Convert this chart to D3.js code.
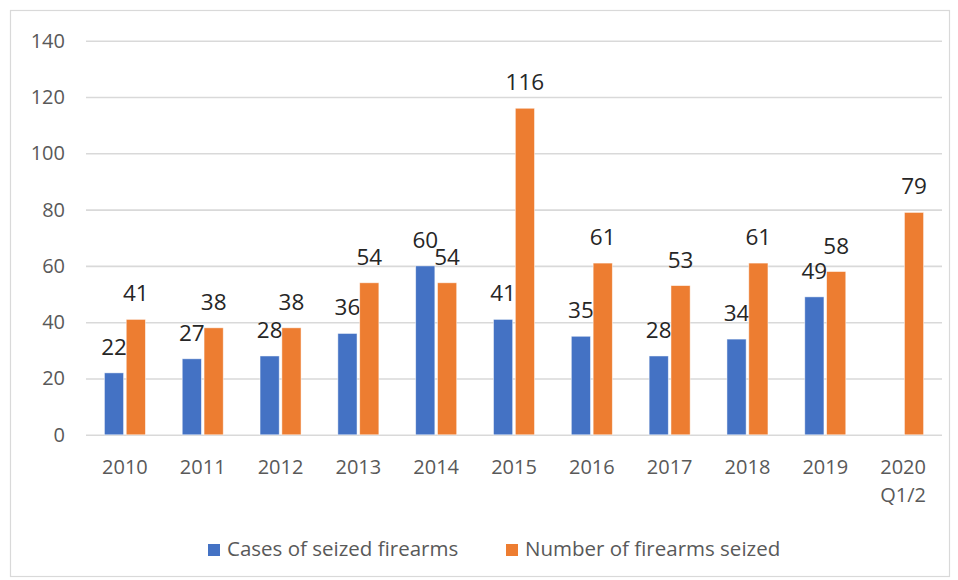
<!DOCTYPE html>
<html>
<head>
<meta charset="utf-8">
<script src="https://cdn.jsdelivr.net/npm/d3@7"></script>
<style>
  html, body { margin: 0; padding: 0; background: #fff; }
  svg { display: block; }
  text { font-family: "Open Sans", "Noto Sans", sans-serif; }
</style>
</head>
<body>
<svg id="chart" width="958" height="580"></svg>
<script>
// Firearm seizures by year
const categories = ["2010", "2011", "2012", "2013", "2014", "2015", "2016", "2017", "2018", "2019", "2020\nQ1/2"];
const casesSeized = [22, 27, 28, 36, 60, 41, 35, 28, 34, 49, null];
const firearmsSeized = [41, 38, 38, 54, 54, 116, 61, 53, 61, 58, 79];
const seriesNames = ["Cases of seized firearms", "Number of firearms seized"];
const seriesColors = ["#4472C4", "#ED7D31"];
const yTicks = [0, 20, 40, 60, 80, 100, 120, 140];

const svg = d3.select("#chart");
const plot = { left: 86, right: 942, top: 40.7, bottom: 434.8 };

// outer chart frame
svg.append("rect")
  .attr("x", 10.5).attr("y", 10.5)
  .attr("width", 939).attr("height", 566)
  .attr("fill", "#fff").attr("stroke", "#d9d9d9").attr("stroke-width", 1.2);

const y = d3.scaleLinear().domain([0, 140]).range([plot.bottom, plot.top]);

const groupPad = 1 - 41 / ((plot.right - plot.left) / categories.length);
const x0 = d3.scaleBand().domain(categories)
  .range([plot.left, plot.right])
  .paddingInner(groupPad).paddingOuter(groupPad / 2);
const x1 = d3.scaleBand().domain([0, 1])
  .range([0, x0.bandwidth()])
  .paddingInner(5 / 41);

// horizontal gridlines
const yAxis = d3.axisLeft(y).tickValues(yTicks)
  .tickSize(-(plot.right - plot.left)).tickPadding(21).tickFormat(d3.format("d"));
const yg = svg.append("g")
  .attr("transform", `translate(${plot.left},0)`)
  .call(yAxis);
yg.select(".domain").remove();
yg.selectAll(".tick line").attr("stroke", "#d9d9d9").attr("stroke-width", 1.6);
yg.selectAll(".tick text")
  .attr("fill", "#595959").attr("font-size", 20)
  .attr("font-family", "'Open Sans', sans-serif");

// x axis labels (multi-line)
const xAxis = d3.axisBottom(x0).tickSize(0).tickPadding(0);
const xg = svg.append("g")
  .attr("transform", `translate(0,${plot.bottom})`)
  .call(xAxis);
xg.select(".domain").remove();
xg.selectAll(".tick text").each(function(d) {
  const t = d3.select(this);
  t.text(null).attr("y", 0).attr("dy", null)
    .attr("fill", "#595959").attr("font-size", 20)
    .attr("font-family", "'Open Sans', sans-serif");
  d.split("\n").forEach((line, i) => {
    t.append("tspan").attr("x", 0).attr("y", 39 + i * 28).text(line);
  });
});

// bars
const rows = categories.map((c, i) => ({ cat: c, vals: [casesSeized[i], firearmsSeized[i]] }));
const groups = svg.append("g").selectAll("g")
  .data(rows).join("g")
  .attr("transform", d => `translate(${x0(d.cat)},0)`);

const cells = groups.selectAll("g.cell")
  .data(d => d.vals.map((v, s) => ({ v, s })).filter(e => e.v != null))
  .join("g").attr("class", "cell");

cells.append("rect")
  .attr("x", d => x1(d.s))
  .attr("width", x1.bandwidth())
  .attr("y", d => y(d.v))
  .attr("height", d => y(0) - y(d.v))
  .attr("fill", d => seriesColors[d.s])
  .attr("stroke", "#ffffff").attr("stroke-opacity", 0.6).attr("stroke-width", 0.8);

// value labels
cells.append("text")
  .attr("x", d => x1(d.s) + x1.bandwidth() / 2)
  .attr("y", d => y(d.v) - 18)
  .attr("text-anchor", "middle")
  .attr("fill", "#262626")
  .attr("font-size", 22.5)
  .text(d => d.v);

// legend
const legendItems = [
  { name: seriesNames[0], color: seriesColors[0], sx: 208, tx: 227 },
  { name: seriesNames[1], color: seriesColors[1], sx: 506, tx: 525 }
];
const lg = svg.append("g");
legendItems.forEach(it => {
  lg.append("rect").attr("x", it.sx).attr("y", 544).attr("width", 12).attr("height", 12)
    .attr("fill", it.color);
  lg.append("text").attr("x", it.tx).attr("y", 556)
    .attr("fill", "#595959").attr("font-size", 20.5)
    .text(it.name);
});
</script>
</body>
</html>
